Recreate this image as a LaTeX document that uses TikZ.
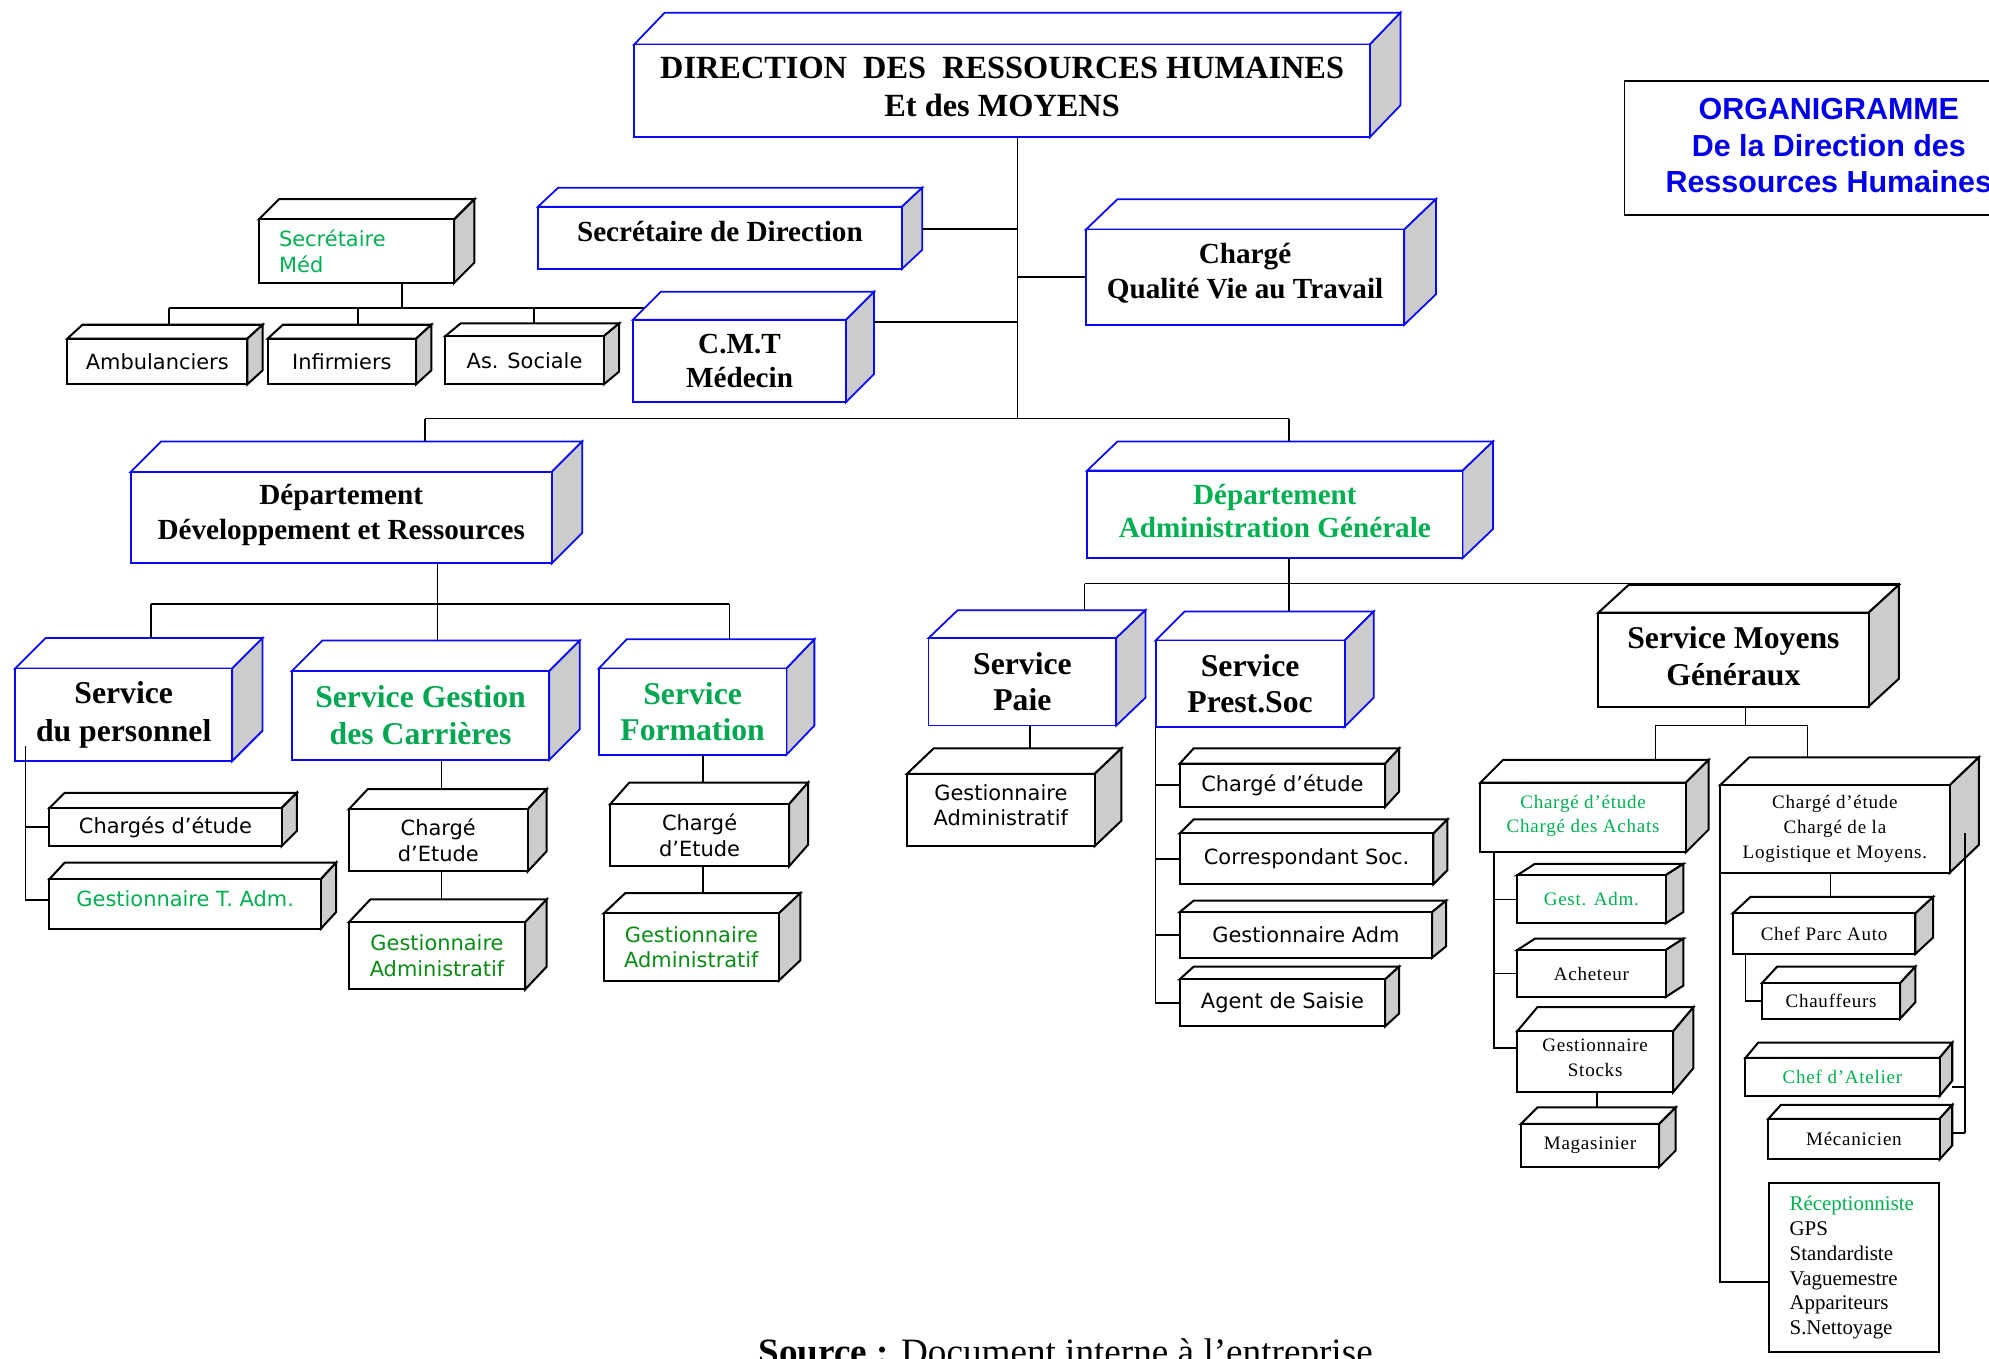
\documentclass[tikz,border=0pt]{standalone}
\usepackage{fontspec}
\setmainfont{Liberation Serif}
\newfontfamily\vsans{DejaVu Sans}
\newfontfamily\asans{Liberation Sans}
\newfontfamily\wserif[LetterSpace=4]{Liberation Serif}

\definecolor{boxblue}{RGB}{10,10,245}
\definecolor{sidegray}{RGB}{204,204,204}
\definecolor{greenA}{RGB}{0,176,80}
\definecolor{greenB}{RGB}{0,166,80}
\definecolor{greenC}{RGB}{10,140,20}
\definecolor{orgblue}{RGB}{0,0,235}

\newcommand{\fs}[2]{\fontsize{#1}{#2}\selectfont}
% invisible strut that lifts a centred label a little
\newcommand{\dn}[1]{\rule[-#1pt]{0pt}{0pt}}

% 3D box: style, name, left, top, right, bottom, depth x, depth y, text
\newcommand{\solid}[9]{%
  \filldraw[#1, fill=white] (#3,#4) -- (#3+#7,#4-#8) -- (#5+#7,#4-#8) -- (#5,#4) -- cycle;
  \filldraw[#1, fill=sidegray] (#5,#4) -- (#5+#7,#4-#8) -- (#5+#7,#6-#8) -- (#5,#6) -- cycle;
  \node[#1, fill=white, anchor=north west, minimum width={(#5-#3)*1pt},
        minimum height={(#6-#4)*1pt}] (#2) at (#3,#4) {#9};
  \coordinate (#2-top) at (#3+#7,#4-#8);
  \coordinate (#2-tr) at (#5+#7,#4-#8);
}

\tikzset{
  bbox/.style={draw=boxblue, line width=1.4pt, inner sep=0pt, outer sep=0pt, align=center},
  kbox/.style={draw=black, line width=1.6pt, inner sep=0pt, outer sep=0pt, align=center},
  wire/.style={draw=black, line width=1.3pt},
  tbig/.style={font=\bfseries\fs{25}{29}},
  tmid/.style={font=\bfseries\fs{23}{27}},
  vs/.style={font=\vsans\fs{16.5}{20}},
  ws/.style={font=\wserif\fs{15}{19.5}},
}

\begin{document}
\begin{tikzpicture}[x=1pt,y=-1pt]
\useasboundingbox (0,0) rectangle (1568,1071);
\clip (0,0) rectangle (1568,1071);
\fill[white] (0,0) rectangle (1568,1071);

% ---- top level ----
\solid{bbox, font=\bfseries\fs{25.5}{30}}{dir}{500}{35}{1080}{108}{24}{25}{DIRECTION\ \ DES\ \ RESSOURCES HUMAINES\\Et des MOYENS\dn{6}}
\solid{bbox, font=\bfseries\fs{23}{27}}{sdir}{424}{163}{711}{212}{16}{15}{Secrétaire de Direction\dn{10}}
\solid{bbox, tmid}{cqvt}{856}{181}{1107}{256}{25}{24}{Chargé\\Qualité Vie au Travail\dn{10}}
\solid{bbox, tmid}{cmt}{499}{252}{667}{317}{22}{22}{C.M.T\\Médecin}
\solid{kbox, vs, text=greenA, text width=122pt, align=left}{smed}{204}{173}{358}{223}{16}{16}{Secrétaire\\Méd}
\solid{kbox, vs}{amb}{53}{267}{195}{303}{12}{11}{Ambulanciers}
\solid{kbox, vs}{inf}{211}{267}{328}{303}{12}{11}{Infirmiers}
\solid{kbox, vs}{asoc}{351}{265}{476}{303}{12}{10}{As. Sociale}

% title frame
\node[draw=black, line width=1.4pt, minimum width=322pt, minimum height=106pt, anchor=north west,
      inner sep=0pt, align=center, text=orgblue, font=\asans\bfseries\fs{24}{29}] (org) at (1280,63)
      {ORGANIGRAMME\\De la Direction des\\Ressources Humaines\dn{4}};

% ---- departments ----
\solid{bbox, tmid}{dDR}{103}{372}{435}{444}{24}{24}{Département\\Développement et Ressources\dn{9}}
\solid{bbox, tmid, text=greenA, font=\bfseries\fs{23}{26}}{dAG}{857}{371}{1153}{440}{24}{23}{Département\\Administration Générale\dn{6}}

% ---- Développement et Ressources ----
\solid{bbox, tbig, font=\bfseries\fs{25}{30}}{spers}{12}{527}{183}{600}{24}{24}{Service\\du personnel}
\solid{bbox, tbig, text=greenB}{sgc}{230}{529}{433}{599}{24}{24}{Service Gestion\\des Carrières}
\solid{bbox, tbig, text=greenB, font=\bfseries\fs{25}{28}}{sform}{472}{527}{620}{595}{22}{23}{Service\\Formation}
\solid{kbox, vs}{cetu1}{39}{637}{222}{667}{12}{12}{Chargés d’étude}
\solid{kbox, vs, text=greenA}{gta}{39}{693}{253}{732}{12}{13}{Gestionnaire T. Adm.\dn{8}}
\solid{kbox, vs}{cetu2}{275}{638}{416}{687}{15}{16}{Chargé\\d’Etude}
\solid{kbox, vs, text=greenC}{gadm2}{275}{727}{414}{780}{17}{18}{Gestionnaire\\Administratif}
\solid{kbox, vs}{cetu3}{481}{634}{622}{683}{15}{17}{Chargé\\d’Etude}
\solid{kbox, vs, text=greenC}{gadm3}{476}{720}{614}{773}{17}{16}{Gestionnaire\\Administratif}

% ---- Administration Générale ----
\solid{bbox, tbig, font=\bfseries\fs{25}{28}}{spaie}{732}{503}{880}{572}{23}{22}{Service\\Paie}
\solid{bbox, tbig}{sprest}{911}{505}{1060}{573}{23}{23}{Service\\Prest.Soc}
\solid{kbox, vs}{gadmP}{715}{610}{863}{667}{21}{20}{Gestionnaire\\Administratif\dn{8}}
\solid{kbox, vs}{pce}{930}{602}{1092}{636}{11}{12}{Chargé d’étude}
\solid{kbox, vs}{pcs}{930}{657}{1130}{697}{11}{11}{Correspondant Soc.}
\solid{kbox, vs}{pga}{930}{719}{1129}{755}{11}{9}{Gestionnaire Adm}
\solid{kbox, vs}{pas}{930}{772}{1092}{809}{11}{10}{Agent de Saisie}

% ---- Moyens Généraux ----
\solid{kbox, tbig}{smg}{1260}{483}{1473}{557}{24}{22}{Service Moyens\\Généraux\dn{6}}
\solid{kbox, ws, text=greenA}{cach}{1167}{617}{1329}{672}{18}{18}{Chargé d’étude\\Chargé des Achats\dn{6}}
\solid{kbox, ws}{clog}{1356}{619}{1537}{688}{23}{22}{Chargé d’étude\\Chargé de la\\Logistique et Moyens.}
\solid{kbox, ws, text=greenA}{gesta}{1196}{690}{1313}{728}{14}{9}{Gest. Adm.}
\solid{kbox, ws}{ach}{1196}{749}{1313}{786}{14}{9}{Acheteur}
\solid{kbox, ws}{gsto}{1196}{813}{1319}{861}{16}{19}{Gestionnaire\\Stocks\dn{6}}
\solid{kbox, ws}{mag}{1199}{886}{1308}{920}{13}{13}{Magasinier}
\solid{kbox, ws}{cpa}{1366}{720}{1510}{752}{14}{13}{Chef Parc Auto}
\solid{kbox, ws}{chauf}{1389}{775}{1498}{803}{12}{13}{Chauffeurs}
\solid{kbox, ws, text=greenA}{cat}{1376}{834}{1529}{864}{10}{12}{Chef d’Atelier}
\solid{kbox, ws}{meca}{1394}{882}{1529}{914}{10}{11}{Mécanicien}
\node[draw=black, line width=1.6pt, anchor=north west, inner sep=0pt, minimum width=134pt,
      minimum height=133pt, text width=102pt, align=left, font=\fs{16.5}{19.5}] (recep) at (1394,932)
      {\textcolor{greenA}{Réceptionniste}\\GPS\\Standardiste\\Vaguemestre\\Appariteurs\\S.Nettoyage};

% ---- connectors: direction ----
\coordinate (hub) at (802,330);
\draw[wire] (hub |- dir.south) -- (hub);
\coordinate (sdirR) at ([shift={(16,-7)}]sdir.east);
\draw[wire] (sdirR) -- (sdirR -| hub);
\draw[wire] (cqvt.west) -- (cqvt.west -| hub);
\coordinate (cmtR) at ([shift={(22,2)}]cmt.north east);
\draw[wire] (cmtR) -- (cmtR -| hub);
\coordinate (barL) at (335,330);
\coordinate (barR) at (1016,330);
\draw[wire] (barL) -- (barR);
\draw[wire] (barL) -- (barL |- dDR-top);
\draw[wire] (barR) -- (barR |- dAG-top);

% medical group
\coordinate (medJ) at (317,243);
\coordinate (medL) at (133,243);
\coordinate (medR) at (508,243);
\coordinate (infJ) at (282,243);
\coordinate (asJ) at (421,243);
\draw[wire] (medJ |- smed.south) -- (medJ);
\draw[wire] (medL) -- (medR);
\draw[wire] (medL) -- (medL |- amb-top);
\draw[wire] (infJ) -- (infJ |- inf-top);
\draw[wire] (asJ) -- (asJ |- asoc-top);

% Développement et Ressources
\coordinate (drJ) at (345,476);
\coordinate (drL) at (119,476);
\coordinate (drR) at (575,476);
\draw[wire] (drJ |- dDR.south) -- (drJ);
\draw[wire] (drL) -- (drR);
\draw[wire] (drL) -- (drL |- spers-top);
\draw[wire] (drJ) -- (drJ |- sgc-top);
\draw[wire] (drR) -- (drR |- sform-top);
\coordinate (spJ) at (20,588);
\draw[wire] (spJ) |- ([yshift=3pt]gta.west);
\draw[wire] (spJ |- cetu1.west) -- (cetu1.west);
\coordinate (gcJ) at (348,599);
\draw[wire] (gcJ) -- (gcJ |- cetu2-top);
\draw[wire] (gcJ |- cetu2.south) -- (gcJ |- gadm2-top);
\coordinate (sfJ) at (554,595);
\draw[wire] (sfJ) -- (sfJ |- cetu3-top);
\draw[wire] (sfJ |- cetu3.south) -- (sfJ |- gadm3-top);

% Administration Générale
\coordinate (agJ) at (1016,460);
\coordinate (agL) at (855,460);
\draw[wire] (agJ |- dAG.south) -- (agJ);
\draw[wire] (agL) -- (agL -| smg-tr);
\draw[wire] (agL) -- (agL |- spaie-top);
\draw[wire] (agJ) -- (agJ |- sprest-top);
\coordinate (paJ) at (812,572);
\draw[wire] (paJ) -- (paJ |- gadmP-top);
\draw[wire] (sprest.south west) |- (pas.west);
\draw[wire] (sprest.south west |- pce.west) -- (pce.west);
\draw[wire] (sprest.south west |- pcs.west) -- (pcs.west);
\draw[wire] (sprest.south west |- pga.west) -- (pga.west);

% Moyens Généraux
\coordinate (mgJ) at (1376,572);
\coordinate (mgL) at (1305,572);
\coordinate (mgR) at (1425,572);
\draw[wire] (mgJ |- smg.south) -- (mgJ);
\draw[wire] (mgL) -- (mgR);
\draw[wire] (mgL) -- (mgL |- cach-top);
\draw[wire] (mgR) -- (mgR |- clog-top);
\coordinate (acJ) at (1178,672);
\draw[wire] (acJ) |- ([yshift=11pt]gsto.west);
\draw[wire] (acJ |- gesta.west) -- (gesta.west);
\draw[wire] (acJ |- ach.west) -- (ach.west);
\coordinate (gsJ) at (1259,861);
\draw[wire] (gsJ) -- (gsJ |- mag-top);
\coordinate (lgJ) at (1443,688);
\draw[wire] (lgJ) -- (lgJ |- cpa-top);
\coordinate (cpJ) at (1376,752);
\draw[wire] (cpJ) |- (chauf.west);
\coordinate (lgL) at (1356,688);
\draw[wire] (lgL) |- ([yshift=-11.5pt]recep.west);
\coordinate (rbT) at (1549,657);
\coordinate (rbM) at (1549,857);
\coordinate (rbB) at (1549,893);
\draw[wire] (rbT) -- (rbB);
\draw[wire] (rbM) -- (rbM -| cat-tr);
\draw[wire] (rbB) -- (rbB -| meca-tr);

% source line, running off the lower edge
\node[anchor=base, font=\fs{29.3}{33}] (src) at (840,1076) {\textbf{Source :} Document interne à l’entreprise};
\end{tikzpicture}
\end{document}
